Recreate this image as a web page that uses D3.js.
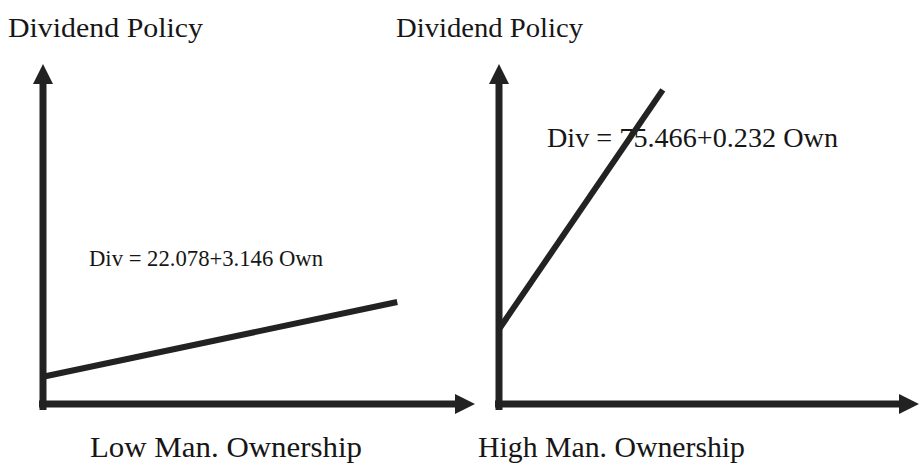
<!DOCTYPE html>
<html>
<head>
<meta charset="utf-8">
<script src="https://cdn.jsdelivr.net/npm/d3@7"></script>
<style>
  body { margin: 0; background: #fff; }
  svg { display: block; }
  text { font-family: "Liberation Serif", "DejaVu Serif", serif; fill: #161616; }
</style>
</head>
<body>
<svg width="919" height="463"></svg>
<script>
const width = 919;
const height = 463;

// panels: low vs high managerial ownership
const panelNames = ["low", "high"];
const yTitles = ["Dividend Policy", "Dividend Policy"];
const xTitles = ["Low Man. Ownership", "High Man. Ownership"];
const equations = ["Div = 22.078+3.146 Own", "Div = 75.466+0.232 Own"];

// line end points in axis units (0-100)
const lowOwn = [0, 82];
const lowDiv = [8, 30];
const highOwn = [0, 39];
const highDiv = [22, 92.4];

const svg = d3.select("svg");
const ink = "#222";

const panels = [
    {x: d3.scaleLinear().domain([0, 100]).range([43, 475]),
     y: d3.scaleLinear().domain([0, 100]).range([404, 64]),
     own: lowOwn, div: lowDiv,
     titleX: 8, titleW: 195, labelX: 90, labelW: 272,
     eqX: 89, eqY: 266, eqSize: 24, eqW: 234},
    {x: d3.scaleLinear().domain([0, 100]).range([499, 919]),
     y: d3.scaleLinear().domain([0, 100]).range([404, 64]),
     own: highOwn, div: highDiv,
     titleX: 396, titleW: 187, labelX: 478, labelW: 267,
     eqX: 547, eqY: 147, eqSize: 27, eqW: 291}
];

const line = d3.line();

panels.forEach((p, i) => {
    const g = svg.append("g").attr("class", "panel-" + panelNames[i]);
    const x0 = p.x(0), y0 = p.y(0);
    const xEnd = p.x(100), yEnd = p.y(100);
    const head = 20;

    // titles
    g.append("text")
        .attr("x", p.titleX)
        .attr("y", 37)
        .attr("font-size", 28)
        .attr("textLength", p.titleW)
        .attr("lengthAdjust", "spacingAndGlyphs")
        .text(yTitles[i]);

    g.append("text")
        .attr("x", p.labelX)
        .attr("y", 457)
        .attr("font-size", 29)
        .attr("textLength", p.labelW)
        .attr("lengthAdjust", "spacingAndGlyphs")
        .text(xTitles[i]);

    // equation (drawn before the line so the line runs over it)
    g.append("text")
        .attr("x", p.eqX)
        .attr("y", p.eqY)
        .attr("font-size", p.eqSize)
        .attr("textLength", p.eqW)
        .attr("lengthAdjust", "spacingAndGlyphs")
        .text(equations[i]);

    // y axis with arrow
    g.append("line")
        .attr("x1", x0).attr("x2", x0)
        .attr("y1", y0 + 6).attr("y2", yEnd + head - 1)
        .attr("stroke", ink)
        .attr("stroke-width", 7);
    g.append("path")
        .attr("d", line([[x0 - 10, yEnd + head], [x0, yEnd], [x0 + 10, yEnd + head]]) + "Z")
        .attr("fill", ink);

    // x axis with arrow
    g.append("line")
        .attr("x1", x0 - 4).attr("x2", xEnd - head + 1)
        .attr("y1", y0).attr("y2", y0)
        .attr("stroke", ink)
        .attr("stroke-width", 7);
    g.append("path")
        .attr("d", line([[xEnd - head, y0 - 10], [xEnd, y0], [xEnd - head, y0 + 10]]) + "Z")
        .attr("fill", ink);

    // regression line
    const pts = p.own.map((o, k) => [p.x(o), p.y(p.div[k])]);
    g.append("path")
        .attr("d", line(pts))
        .attr("fill", "none")
        .attr("stroke", ink)
        .attr("stroke-width", 6);
});
</script>
</body>
</html>
